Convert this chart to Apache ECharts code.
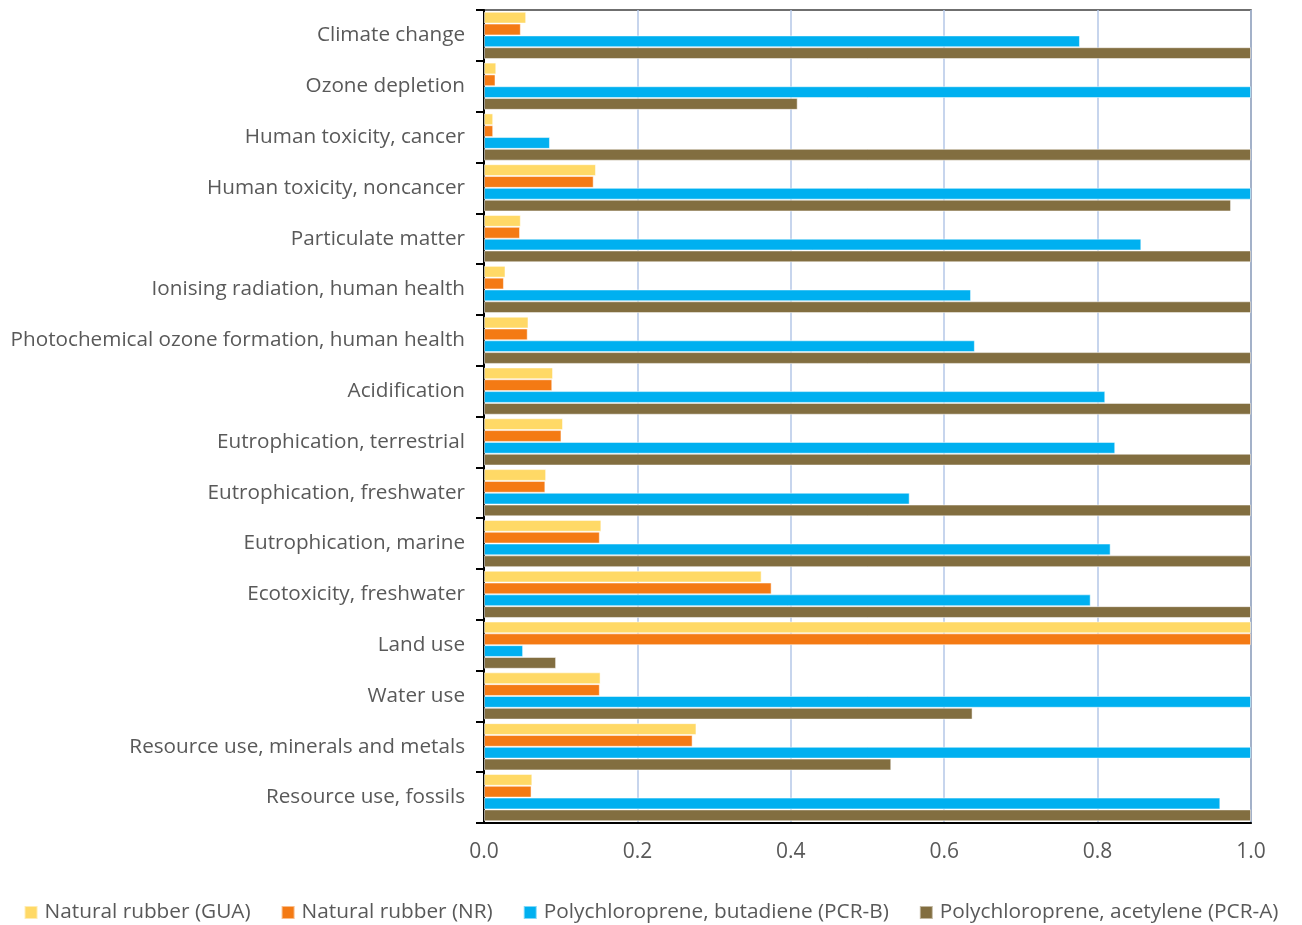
<!DOCTYPE html>
<html>
<head>
<meta charset="utf-8">
<script src="https://cdn.jsdelivr.net/npm/echarts@6/dist/echarts.min.js"></script>
<style>
  html, body { margin: 0; padding: 0; background: #ffffff; }
  #chart { width: 1302px; height: 925px; }
</style>
</head>
<body>
<div id="chart"></div>
<script>
// Impact categories (top to bottom)
const categories = [
  'Climate change',
  'Ozone depletion',
  'Human toxicity, cancer',
  'Human toxicity, noncancer',
  'Particulate matter',
  'Ionising radiation, human health',
  'Photochemical ozone formation, human health',
  'Acidification',
  'Eutrophication, terrestrial',
  'Eutrophication, freshwater',
  'Eutrophication, marine',
  'Ecotoxicity, freshwater',
  'Land use',
  'Water use',
  'Resource use, minerals and metals',
  'Resource use, fossils'
];

// Normalised impact scores per material
const seriesNames = [
  'Natural rubber (GUA)',
  'Natural rubber (NR)',
  'Polychloroprene, butadiene (PCR-B)',
  'Polychloroprene, acetylene (PCR-A)'
];
const guaValues  = [0.055, 0.016, 0.012, 0.146, 0.048, 0.028, 0.058, 0.090, 0.103, 0.081, 0.153, 0.362, 1.0, 0.152, 0.277, 0.063];
const nrValues   = [0.048, 0.015, 0.012, 0.143, 0.047, 0.026, 0.057, 0.089, 0.101, 0.080, 0.151, 0.375, 1.0, 0.151, 0.272, 0.062];
const pcrbValues = [0.777, 1.0, 0.086, 1.0, 0.857, 0.635, 0.640, 0.810, 0.823, 0.555, 0.817, 0.791, 0.051, 1.0, 1.0, 0.960];
const pcraValues = [1.0, 0.409, 1.0, 0.974, 1.0, 1.0, 1.0, 1.0, 1.0, 1.0, 1.0, 1.0, 0.094, 0.637, 0.531, 1.0];

const xTicks = [0, 0.2, 0.4, 0.6, 0.8, 1.0];

const colors = ['#FFD966', '#F47A14', '#00B0F0', '#826E40'];
const font = 'Open Sans';
const textColor = '#595959';

const allValues = [guaValues, nrValues, pcrbValues, pcraValues];

const chart = echarts.init(document.getElementById('chart'));
chart.setOption({
  animation: false,
  color: colors,
  textStyle: { fontFamily: font },
  grid: {
    left: 484, right: 51, top: 10, bottom: 102,
    show: true, borderColor: '#404040', borderWidth: 1.5, backgroundColor: 'transparent'
  },
  legend: {
    top: 897,
    left: 'center',
    itemWidth: 13,
    itemHeight: 13,
    itemGap: 30,
    icon: 'rect',
    textStyle: { fontFamily: font, fontSize: 20.8, color: textColor, padding: [0, 0, 0, 2] },
    data: seriesNames
  },
  xAxis: {
    type: 'value',
    min: xTicks[0],
    max: xTicks[xTicks.length - 1],
    interval: 0.2,
    axisLine: { show: true, lineStyle: { color: '#000000', width: 2 } },
    axisTick: { show: false },
    axisLabel: {
      fontFamily: font, fontSize: 21, color: textColor, margin: 19,
      formatter: v => v.toFixed(1)
    },
    splitLine: { show: true, lineStyle: { color: '#B4C7E7', width: 1.5 } }
  },
  yAxis: {
    type: 'category',
    inverse: true,
    data: categories,
    axisLine: { show: true, lineStyle: { color: '#000000', width: 2 } },
    axisTick: { show: true, length: 8, lineStyle: { color: '#000000', width: 2 } },
    axisLabel: { fontFamily: font, fontSize: 20.7, color: textColor, margin: 19 }
  },
  series: seriesNames.map((name, i) => ({
    name: name,
    type: 'bar',
    data: allValues[i],
    barGap: '0%',
    barCategoryGap: '7%',
    itemStyle: { color: colors[i], borderColor: 'rgba(255,255,255,0.5)', borderWidth: 1 }
  }))
});
</script>
</body>
</html>
